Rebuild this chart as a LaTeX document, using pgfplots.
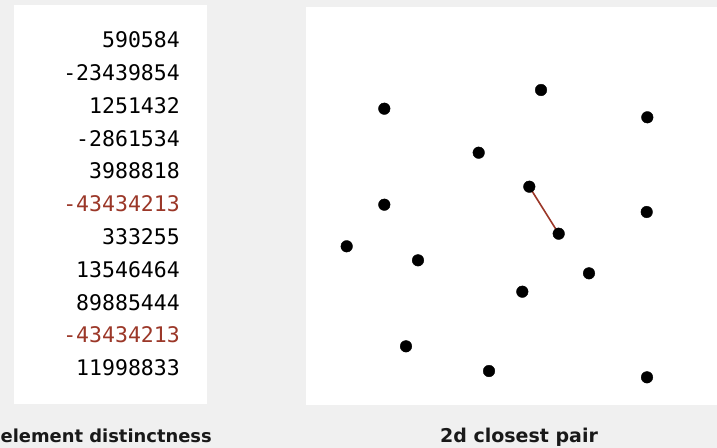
\documentclass[border=0pt]{standalone}
\usepackage{fontspec}
\setmainfont{DejaVu Sans}
\newfontfamily\monofont{DejaVu Sans Mono}
\usepackage{pgfplots}
\pgfplotsset{compat=1.18}
\definecolor{bggray}{RGB}{240,240,240}
\definecolor{darkred}{RGB}{155,55,40}
\begin{document}
\begin{tikzpicture}
\useasboundingbox (0,0) rectangle (717pt,447pt);
\clip (0,0) rectangle (717pt,447pt);
\begin{axis}[
  at={(0,0)}, anchor=south west,
  width=717pt, height=447pt, scale only axis,
  xmin=0, xmax=717, ymin=0, ymax=447, y dir=reverse,
  hide axis, clip=false,
]
\fill[bggray] (axis cs:-5,-5) rectangle (axis cs:722,452);
\fill[white] (axis cs:14,5) rectangle (axis cs:207,404);
\fill[white] (axis cs:306,7) rectangle (axis cs:725,405);
% element distinctness values
\begin{scope}[every node/.style={anchor=base east, inner sep=0pt, font=\monofont\fontsize{21.5}{21.5}\selectfont}]
\node at (axis cs:180,47.7) {590584};
\node at (axis cs:180,80.5) {-23439854};
\node at (axis cs:180,113.3) {1251432};
\node at (axis cs:180,146.1) {-2861534};
\node at (axis cs:180,178.9) {3988818};
\node[text=darkred] at (axis cs:180,211.7) {-43434213};
\node at (axis cs:180,244.5) {333255};
\node at (axis cs:180,277.3) {13546464};
\node at (axis cs:180,310.1) {89885444};
\node[text=darkred] at (axis cs:180,342.9) {-43434213};
\node at (axis cs:180,375.7) {11998833};
\end{scope}
% closest pair segment
\addplot[darkred, line width=1.6pt, no marks] coordinates {(529.3,186.7) (558.7,233.7)};
% points
\addplot[only marks, mark=*, mark size=5.8pt, black] coordinates {
(384.3,108.7) (541,90) (647.3,117.3) (478.7,152.7) (529.3,186.7)
(384.3,204.7) (646.7,212) (558.7,233.7) (346.7,246.3) (418,260.3)
(589,273.3) (522.3,291.7) (406,346.3) (489,371) (647,377.3)
};
% titles
\node[anchor=base east, inner sep=0pt, font=\bfseries\fontsize{17.9}{17.9}\selectfont, text=black!90] at (axis cs:212,442) {element distinctness};
\node[anchor=base, inner sep=0pt, font=\bfseries\fontsize{19}{19}\selectfont, text=black!90] at (axis cs:519,442) {2d closest pair};
\end{axis}
\end{tikzpicture}
\end{document}
